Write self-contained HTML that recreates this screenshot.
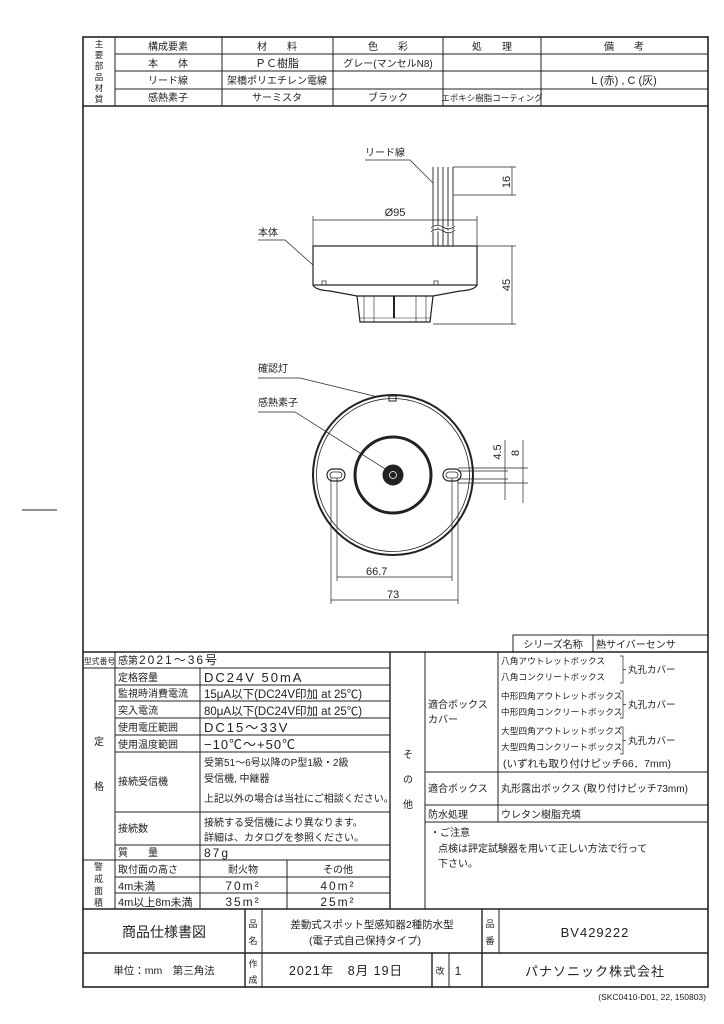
<!DOCTYPE html>
<html><head><meta charset="utf-8"><style>
html,body{margin:0;padding:0;background:#fff}
svg{display:block}
text{font-family:"Liberation Sans","Noto Sans CJK JP",sans-serif;fill:#222}
</style></head><body>
<svg width="724" height="1024" viewBox="0 0 724 1024" xmlns="http://www.w3.org/2000/svg">
<g stroke="#222" fill="none">
<rect x="83" y="37" width="625" height="950" stroke-width="1.6"/>
<line x1="22" y1="510" x2="57" y2="510" stroke-width="1"/>
<g stroke-width="1">
<line x1="83" y1="106" x2="708" y2="106" stroke-width="1.4"/>
<line x1="115" y1="54" x2="708" y2="54"/>
<line x1="115" y1="71" x2="708" y2="71"/>
<line x1="115" y1="89" x2="708" y2="89"/>
<line x1="115" y1="37" x2="115" y2="106"/>
<line x1="222" y1="37" x2="222" y2="106"/>
<line x1="333" y1="37" x2="333" y2="106"/>
<line x1="443" y1="37" x2="443" y2="106"/>
<line x1="541" y1="37" x2="541" y2="106"/>
</g>
<g stroke-width="1.2">
<rect x="313" y="246" width="164" height="39"/>
<path d="M313 285 Q315 290 330 291 L357 296 L433 296 L460 291 Q475 290 477 285"/>
<path d="M357 296 L360 322 L430 322 L433 296"/>
<line x1="364" y1="296" x2="364" y2="322" stroke-width="0.6"/>
<line x1="374" y1="296" x2="374" y2="322" stroke-width="0.6"/>
<line x1="416" y1="296" x2="416" y2="322" stroke-width="0.6"/>
<line x1="426" y1="296" x2="426" y2="322" stroke-width="0.6"/>
<line x1="394" y1="296" x2="394" y2="318" stroke-width="2"/>
<line x1="360" y1="318" x2="430" y2="318" stroke-width="0.6"/>
<rect x="322" y="281" width="4" height="4" stroke-width="0.7"/>
<rect x="434" y="281" width="4" height="4" stroke-width="0.7"/>
<path d="M433 167 V246 M438 167 V246 M443 167 V246 M448 167 V246 M453 167 V246" stroke-width="0.9"/>
<path d="M431 228 q6 -5 12 -1 t12 -1 M431 232 q6 -5 12 -1 t12 -1" stroke-width="0.8" fill="#fff"/>
</g>
<g stroke-width="0.7">
<line x1="453" y1="167" x2="516" y2="167"/>
<line x1="453" y1="195" x2="516" y2="195"/>
<line x1="512" y1="167" x2="512" y2="195"/>
<line x1="477" y1="246" x2="516" y2="246"/>
<line x1="433" y1="324" x2="516" y2="324"/>
<line x1="512" y1="246" x2="512" y2="324"/>
<line x1="313" y1="216" x2="313" y2="246"/>
<line x1="477" y1="216" x2="477" y2="246"/>
<line x1="313" y1="220" x2="477" y2="220"/>
<path d="M365 160 H410 L433 183"/>
<path d="M258 240 H285 L313 265"/>
</g>
<g>
<circle cx="393" cy="475" r="80" stroke-width="2"/>
<circle cx="393" cy="475" r="76.5" stroke-width="0.8"/>
<circle cx="393" cy="475" r="38" stroke-width="3"/>
<circle cx="393" cy="475" r="10" fill="#222"/>
<circle cx="393" cy="475" r="3.5" stroke="#fff" stroke-width="0.8"/>
<rect x="389" y="396" width="7" height="5" stroke-width="1"/>
<rect x="327" y="469" width="18" height="12" rx="6" stroke-width="1.2"/>
<rect x="330" y="472" width="12" height="6" rx="3" stroke-width="0.8"/>
<rect x="443" y="469" width="18" height="12" rx="6" stroke-width="1.2"/>
<rect x="446" y="472" width="12" height="6" rx="3" stroke-width="0.8"/>
</g>
<g stroke-width="0.7">
<line x1="337" y1="478" x2="337" y2="581"/>
<line x1="452" y1="478" x2="452" y2="581"/>
<line x1="337" y1="577" x2="452" y2="577"/>
<line x1="331" y1="478" x2="331" y2="604"/>
<line x1="458" y1="478" x2="458" y2="604"/>
<line x1="331" y1="600" x2="458" y2="600"/>
<line x1="458" y1="468" x2="528" y2="468"/>
<line x1="458" y1="471" x2="508" y2="471"/>
<line x1="458" y1="479" x2="508" y2="479"/>
<line x1="458" y1="483" x2="528" y2="483"/>
<line x1="505" y1="440" x2="505" y2="500"/>
<line x1="523" y1="440" x2="523" y2="503"/>
<path d="M258 378 H300 L378 397"/>
<path d="M258 412 H295 L390 472"/>
</g>
<g stroke-width="1">
<path d="M513 652 V635 H708 M593 635 V652"/>
<line x1="83" y1="652" x2="708" y2="652" stroke-width="1.4"/>
<line x1="115" y1="652" x2="115" y2="909"/>
<line x1="200" y1="668" x2="200" y2="909"/>
<line x1="287" y1="860" x2="287" y2="909"/>
<line x1="390" y1="652" x2="390" y2="909" stroke-width="1.4"/>
<line x1="83" y1="668" x2="390" y2="668"/>
<line x1="115" y1="685" x2="390" y2="685"/>
<line x1="115" y1="701" x2="390" y2="701"/>
<line x1="115" y1="718" x2="390" y2="718"/>
<line x1="115" y1="735" x2="390" y2="735"/>
<line x1="115" y1="752" x2="390" y2="752"/>
<line x1="115" y1="812" x2="390" y2="812"/>
<line x1="115" y1="845" x2="390" y2="845"/>
<line x1="83" y1="860" x2="390" y2="860"/>
<line x1="115" y1="877" x2="390" y2="877"/>
<line x1="115" y1="893" x2="390" y2="893"/>
<line x1="425" y1="652" x2="425" y2="909"/>
<line x1="498" y1="652" x2="498" y2="822"/>
<line x1="425" y1="772" x2="708" y2="772"/>
<line x1="425" y1="805" x2="708" y2="805"/>
<line x1="425" y1="822" x2="708" y2="822"/>
<path d="M620 656 h3 v27 h-3 M623 669.5 h3 M620 691 h3 v27 h-3 M623 704.5 h3 M620 727 h3 v27 h-3 M623 740.5 h3" stroke-width="0.7"/>
<line x1="83" y1="909" x2="708" y2="909" stroke-width="1.6"/>
<line x1="83" y1="953" x2="708" y2="953" stroke-width="1.6"/>
<line x1="245" y1="909" x2="245" y2="987" stroke-width="1.4"/>
<line x1="262" y1="909" x2="262" y2="987"/>
<line x1="482" y1="909" x2="482" y2="987" stroke-width="1.4"/>
<line x1="499" y1="909" x2="499" y2="953"/>
<line x1="432" y1="953" x2="432" y2="987" stroke-width="1.4"/>
<line x1="449" y1="953" x2="449" y2="987"/>
</g>
</g>

<g font-size="10" text-anchor="middle">
<text x="99" y="47" font-size="8.5">主</text><text x="99" y="58" font-size="8.5">要</text><text x="99" y="69" font-size="8.5">部</text><text x="99" y="80" font-size="8.5">品</text><text x="99" y="91" font-size="8.5">材</text><text x="99" y="102" font-size="8.5">質</text>
<text x="168" y="50">構成要素</text><text x="277" y="50">材　　料</text><text x="388" y="50">色　　彩</text><text x="492" y="50">処　　理</text><text x="624" y="50">備　　考</text>
<text x="168" y="67">本　　体</text><text x="277" y="67" font-size="11">ＰＣ樹脂</text><text x="388" y="67">グレー(マンセルN8)</text>
<text x="168" y="84">リード線</text><text x="277" y="84">架橋ポリエチレン電線</text><text x="624" y="84" font-size="11">L (赤) , C (灰)</text>
<text x="168" y="101">感熱素子</text><text x="277" y="101">サーミスタ</text><text x="388" y="101">ブラック</text><text x="492" y="101" font-size="8.5">エポキシ樹脂コーティング</text>
</g>
<g font-size="10">
<text x="365" y="156">リード線</text>
<text x="258" y="236">本体</text>
<text x="258" y="372">確認灯</text>
<text x="258" y="406">感熱素子</text>
<text x="395" y="216" text-anchor="middle" font-size="11">Ø95</text>
<text x="366" y="575" font-size="11">66.7</text>
<text x="387" y="598" font-size="11">73</text>
<text transform="translate(510,182) rotate(-90)" text-anchor="middle" font-size="11">16</text>
<text transform="translate(510,285) rotate(-90)" text-anchor="middle" font-size="11">45</text>
<text transform="translate(501,452) rotate(-90)" text-anchor="middle" font-size="11">4.5</text>
<text transform="translate(519,453) rotate(-90)" text-anchor="middle" font-size="11">8</text>
</g>
<g font-size="10">
<text x="553" y="648" text-anchor="middle">シリーズ名称</text>
<text x="596" y="648">熱サイバーセンサ</text>
<text x="84" y="664" font-size="7.8">型式番号</text>
<text x="118" y="664">感第</text><text x="139" y="664" font-size="12" letter-spacing="2">2021～36号</text>
<text x="118" y="681">定格容量</text><text x="204" y="682" font-size="13" letter-spacing="2">DC24V  50mA</text>
<text x="118" y="697">監視時消費電流</text><text x="204" y="698" font-size="11.5">15μA以下(DC24V印加 at 25℃)</text>
<text x="118" y="714">突入電流</text><text x="204" y="715" font-size="11.5">80μA以下(DC24V印加 at 25℃)</text>
<text x="118" y="731">使用電圧範囲</text><text x="204" y="732" font-size="13" letter-spacing="2">DC15～33V</text>
<text x="118" y="748">使用温度範囲</text><text x="204" y="749" font-size="13" letter-spacing="1">−10℃～+50℃</text>
<text x="118" y="785">接続受信機</text>
<text x="204" y="766">受第51～6号以降のP型1級・2級</text>
<text x="204" y="782">受信機, 中継器</text>
<text x="204" y="802">上記以外の場合は当社にご相談ください。</text>
<text x="118" y="832">接続数</text>
<text x="204" y="826">接続する受信機により異なります。</text>
<text x="204" y="841">詳細は、カタログを参照ください。</text>
<text x="118" y="856">質　　量</text><text x="204" y="857" font-size="12" letter-spacing="2">87g</text>
<text x="118" y="873">取付面の高さ</text><text x="243" y="873" text-anchor="middle">耐火物</text><text x="338" y="873" text-anchor="middle">その他</text>
<text x="118" y="890" font-size="11">4m未満</text><text x="243" y="890" text-anchor="middle" font-size="12" letter-spacing="2">70m²</text><text x="338" y="890" text-anchor="middle" font-size="12" letter-spacing="2">40m²</text>
<text x="118" y="906" font-size="11">4m以上8m未満</text><text x="243" y="906" text-anchor="middle" font-size="12" letter-spacing="2">35m²</text><text x="338" y="906" text-anchor="middle" font-size="12" letter-spacing="2">25m²</text>
<text x="94" y="745">定</text><text x="94" y="790">格</text>
<text x="94" y="870" font-size="9">警</text><text x="94" y="882" font-size="9">戒</text><text x="94" y="894" font-size="9">面</text><text x="94" y="906" font-size="9">積</text>
<text x="403" y="758">そ</text><text x="403" y="783">の</text><text x="403" y="808">他</text>
<text x="428" y="708">適合ボックス</text><text x="428" y="723">カバー</text>
<text x="501" y="664" font-size="8.7">八角アウトレットボックス</text>
<text x="501" y="680" font-size="8.7">八角コンクリートボックス</text>
<text x="501" y="699" font-size="8.7">中形四角アウトレットボックス</text>
<text x="501" y="715" font-size="8.7">中形四角コンクリートボックス</text>
<text x="501" y="734" font-size="8.7">大型四角アウトレットボックス</text>
<text x="501" y="750" font-size="8.7">大型四角コンクリートボックス</text>
<text x="628" y="673" font-size="9.5">丸孔カバー</text>
<text x="628" y="708" font-size="9.5">丸孔カバー</text>
<text x="628" y="744" font-size="9.5">丸孔カバー</text>
<text x="503" y="767" font-size="10.5">(いずれも取り付けピッチ66．7mm)</text>
<text x="428" y="792">適合ボックス</text><text x="501" y="792">丸形露出ボックス (取り付けピッチ73mm)</text>
<text x="428" y="818">防水処理</text><text x="501" y="818">ウレタン樹脂充填</text>
<text x="430" y="836">・ご注意</text>
<text x="438" y="852">点検は評定試験器を用いて正しい方法で行って</text>
<text x="438" y="867">下さい。</text>
</g>
<g text-anchor="middle">
<text x="164" y="937" font-size="14">商品仕様書図</text>
<text x="253" y="927" font-size="9">品</text><text x="253" y="944" font-size="9">名</text>
<text x="372" y="928" font-size="10.5">差動式スポット型感知器2種防水型</text>
<text x="365" y="944" font-size="10.5">(電子式自己保持タイプ)</text>
<text x="490" y="927" font-size="9">品</text><text x="490" y="944" font-size="9">番</text>
<text x="595" y="937" font-size="13" letter-spacing="1">BV429222</text>
<text x="164" y="974" font-size="10.5">単位：mm　第三角法</text>
<text x="253" y="967" font-size="9">作</text><text x="253" y="983" font-size="9">成</text>
<text x="346" y="975" font-size="12.5" letter-spacing="1">2021年　8月 19日</text>
<text x="440" y="974" font-size="9">改</text>
<text x="458" y="975" font-size="12">1</text>
<text x="595" y="976" font-size="13" letter-spacing="1">パナソニック株式会社</text>
<text x="706" y="1000" font-size="8.5" text-anchor="end">(SKC0410-D01, 22, 150803)</text>
</g>
</svg>
</body></html>
